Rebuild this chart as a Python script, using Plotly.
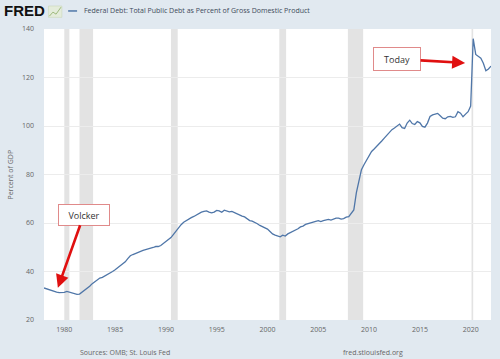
import plotly.graph_objects as go

# Quarterly observations, 1978Q1 .. 2022Q1 (percent of GDP)
years = list(range(1978, 2023))
debt_pct = [
    33.2, 32.8, 32.4, 32.2,   # 1978
    31.8, 31.5, 31.3, 31.2,   # 1979
    31.4, 31.8, 31.5, 31.0,   # 1980
    30.8, 30.6, 30.7, 31.5,   # 1981
    32.3, 33.0, 33.9, 35.0,   # 1982
    35.8, 36.6, 37.3, 37.6,   # 1983
    38.2, 38.5, 39.3, 40.0,   # 1984
    40.7, 41.5, 42.5, 43.2,   # 1985
    44.0, 45.3, 46.5, 47.0,   # 1986
    47.5, 48.0, 48.3, 48.7,   # 1987
    49.0, 49.2, 49.5, 49.9,   # 1988
    50.3, 50.3, 50.7, 51.5,   # 1989
    52.3, 53.0, 54.0, 55.3,   # 1990
    56.8, 58.0, 59.3, 60.3,   # 1991
    61.0, 61.6, 62.2, 62.7,   # 1992
    63.3, 64.0, 64.5, 64.8,   # 1993
    65.0, 64.5, 64.2, 64.5,   # 1994
    65.2, 65.0, 64.4, 65.3,   # 1995
    64.8, 64.6, 64.8, 64.3,   # 1996
    63.6, 63.0, 62.8, 62.5,   # 1997
    61.8, 61.0, 60.8, 60.4,   # 1998
    59.7, 59.0, 58.6, 58.0,   # 1999
    57.5, 56.5, 55.5, 55.0,   # 2000
    54.6, 54.3, 55.0, 54.6,   # 2001
    55.5, 56.0, 56.6, 57.2,   # 2002
    57.6, 58.4, 58.7, 59.4,   # 2003
    59.8, 60.0, 60.4, 60.7,   # 2004
    61.0, 60.6, 61.0, 61.3,   # 2005
    61.5, 61.2, 61.6, 62.0,   # 2006
    62.0, 61.6, 61.8, 62.4,   # 2007
    62.6, 63.8, 65.4, 72.5,   # 2008
    78.0, 82.0, 84.0, 86.0,   # 2009
    87.5, 89.5, 90.5, 91.5,   # 2010
    92.5, 93.8, 95.0, 96.3,   # 2011
    97.3, 98.5, 99.2, 100.2,  # 2012
    100.8, 99.3, 99.0, 101.2, # 2013
    102.4, 101.0, 100.6, 101.8,  # 2014
    101.3, 99.8, 99.5, 101.2, # 2015
    103.9, 104.6, 105.0, 105.2,  # 2016
    104.2, 103.2, 103.0, 103.8,  # 2017
    104.0, 103.6, 103.8, 105.9,  # 2018
    105.3, 103.8, 104.9, 105.9,  # 2019
    108.2, 136.0, 129.5, 128.6,  # 2020
    128.0, 125.9, 122.8, 123.5,  # 2021
    124.7,                       # 2022
]
quarter_months = ["01", "04", "07", "10"]
dates = [f"{y}-{m}-01" for y in years for m in quarter_months][:len(debt_pct)]

recession_start = ["1980-01-01", "1981-07-01", "1990-07-01", "2001-03-01", "2007-12-01", "2020-02-01"]
recession_end = ["1980-07-01", "1982-11-01", "1991-03-01", "2001-11-01", "2009-06-01", "2020-04-01"]

y_ticks = [20, 40, 60, 80, 100, 120, 140]
x_tick_years = [1980, 1985, 1990, 1995, 2000, 2005, 2010, 2015, 2020]

series_name = "Federal Debt: Total Public Debt as Percent of Gross Domestic Product"

BG = "#e1e9f0"
LINE = "#4f76a8"
TXT = "#666666"

fig = go.Figure()
fig.add_trace(go.Scatter(x=dates, y=debt_pct, mode="lines",
                         line=dict(color=LINE, width=1.3), name=series_name,
                         showlegend=False))

shapes = []
for s, e in zip(recession_start, recession_end):
    shapes.append(dict(type="rect", xref="x", yref="paper", x0=s, x1=e, y0=0, y1=1,
                       fillcolor="#e3e3e3", line=dict(width=0), layer="below"))

# legend line in header
shapes.append(dict(type="line", xref="paper", yref="paper", x0=0.054, x1=0.074,
                   y0=1.062, y1=1.062, line=dict(color=LINE, width=1.5)))
# small FRED chart icon
shapes.append(dict(type="path", xref="paper", yref="paper",
                   path="M 0.010 1.040 L 0.040 1.040 L 0.040 1.079 L 0.010 1.079 Z",
                   fillcolor="#e4ecdb", line=dict(color="#cbd9bb", width=0.6)))
shapes.append(dict(type="path", xref="paper", yref="paper",
                   path="M 0.012 1.044 L 0.020 1.058 L 0.027 1.051 L 0.038 1.075",
                   line=dict(color="#9fbb7e", width=1.0)))

annotations = [
    dict(text="<b>FRED</b>", xref="paper", yref="paper", x=-0.094, y=1.062,
         xanchor="left", yanchor="middle", showarrow=False,
         font=dict(family="Liberation Sans", size=15, color="#111111")),
    dict(text=series_name, xref="paper", yref="paper", x=0.085, y=1.062,
         xanchor="left", yanchor="middle", showarrow=False,
         font=dict(family="Open Sans", size=7, color="#3d4a5a")),
    dict(text="Percent of GDP", xref="paper", yref="paper", x=-0.076, y=0.5,
         textangle=-90, xanchor="center", yanchor="middle", showarrow=False,
         font=dict(family="Open Sans", size=7, color=TXT)),
    dict(text="Sources: OMB; St. Louis Fed", xref="paper", yref="paper", x=0.181, y=-0.112,
         xanchor="center", yanchor="middle", showarrow=False,
         font=dict(family="Open Sans", size=7, color=TXT)),
    dict(text="fred.stlouisfed.org", xref="paper", yref="paper", x=0.736, y=-0.112,
         xanchor="center", yanchor="middle", showarrow=False,
         font=dict(family="Open Sans", size=7, color=TXT)),
    dict(text="Volcker", x="1979-05-15", y=33.3, xref="x", yref="y",
         ax=26, ay=-73, showarrow=True, arrowhead=2, arrowsize=1, arrowwidth=2.6,
         arrowcolor="#e01010", bgcolor="white", bordercolor="#e08a8a", borderwidth=1,
         borderpad=3, width=44, height=14,
         font=dict(family="Open Sans", size=9, color="#333333")),
    dict(text="Today", x="2019-06-15", y=126, xref="x", yref="y",
         ax=-68, ay=-4, showarrow=True, arrowhead=2, arrowsize=1, arrowwidth=2.6,
         arrowcolor="#e01010", bgcolor="white", bordercolor="#e08a8a", borderwidth=1,
         borderpad=3, width=40, height=16,
         font=dict(family="Open Sans", size=9, color="#333333")),
]

fig.update_layout(
    width=500, height=359,
    margin=dict(l=44, r=9, t=29, b=39, autoexpand=False),
    paper_bgcolor=BG, plot_bgcolor="white",
    shapes=shapes, annotations=annotations,
    font=dict(family="Open Sans", size=7, color=TXT),
)
fig.update_xaxes(range=[dates[0], dates[-1]], showgrid=False, zeroline=False,
                 showline=False, tickmode="array", automargin=False,
                 tickvals=[f"{y}-01-01" for y in x_tick_years],
                 ticktext=[str(y) for y in x_tick_years],
                 ticks="", ticklabelstandoff=4,
                 tickfont=dict(family="Open Sans", size=7, color=TXT))
fig.update_yaxes(range=[20, 140], tickvals=y_ticks, showgrid=True, automargin=False,
                 gridcolor="#ececec", gridwidth=1, zeroline=False, showline=False,
                 ticks="", ticklabelstandoff=9,
                 tickfont=dict(family="Open Sans", size=7, color=TXT))

fig.write_html("out.html", config={"displayModeBar": False},
               post_script="document.body.style.margin='0px';document.body.style.padding='0px';")
